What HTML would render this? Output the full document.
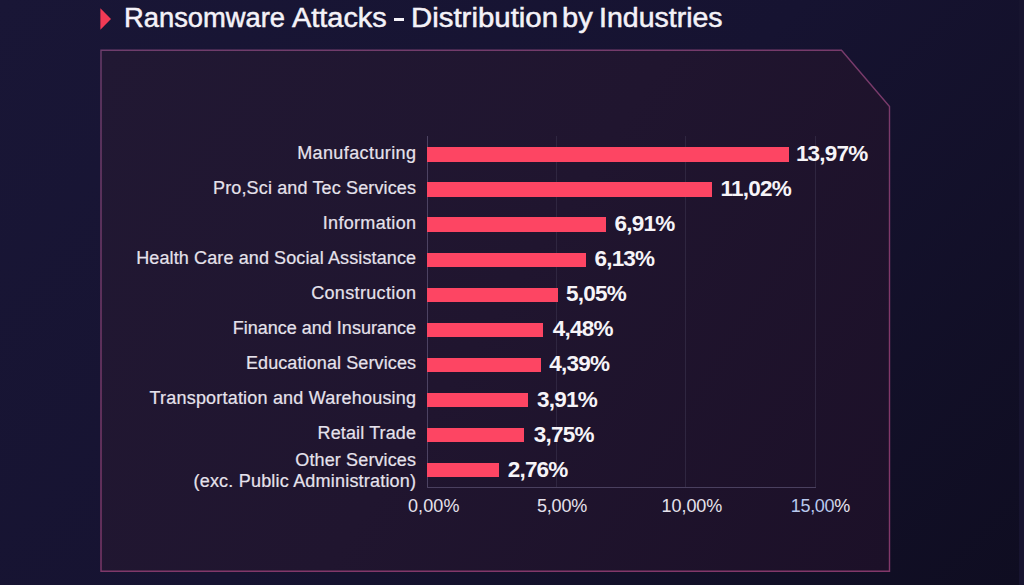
<!DOCTYPE html>
<html><head><meta charset="utf-8"><style>
html,body{margin:0;padding:0;}
body{width:1024px;height:585px;overflow:hidden;position:relative;
 background:linear-gradient(135deg,#191636 0%,#161331 50%,#0f0d21 100%);
 font-family:"Liberation Sans",sans-serif;}
.tri{position:absolute;left:100px;top:8px;width:0;height:0;border-top:11px solid transparent;border-bottom:11px solid transparent;border-left:11px solid #f03a56;}
.title{position:absolute;top:0.2px;font-size:27px;line-height:36px;color:#f4f2f8;white-space:nowrap;-webkit-text-stroke:0.5px #f4f2f8;}
.dash{position:absolute;left:393.5px;top:18.1px;width:10.2px;height:2.6px;background:#f4f2f8;}
svg.box{position:absolute;left:0;top:0;}
.bar{position:absolute;left:427.2px;height:14.4px;background:#fd4563;}
.val{position:absolute;font-size:22.5px;font-weight:700;line-height:24px;color:#f6f4f8;white-space:nowrap;}
.lab{position:absolute;font-size:18px;line-height:20px;color:#e6e2ec;text-align:right;white-space:nowrap;-webkit-text-stroke:0.2px #e6e2ec;}
.grid{position:absolute;top:136px;height:351px;width:1px;background:#2f2640;}
.axis{position:absolute;left:427px;top:136px;width:1px;height:352px;background:#4d4362;}
.haxis{position:absolute;left:427px;top:487px;width:389px;height:1px;background:#4a405f;}
.tick{position:absolute;top:493.5px;font-size:18px;line-height:24px;color:#e6e2ec;white-space:nowrap;}
</style></head><body>
<svg style="position:absolute;left:0;top:0" width="120" height="40"><polygon points="100.4,8.3 111,19 100.4,29.7" fill="#f23a55"/></svg><div style="position:absolute;right:0;top:0;width:4.6px;height:585px;background:#17142f"></div>
<div class="title" style="left:124.35px;transform:scaleX(1.0127);transform-origin:0 0">Ransomware</div><div class="title" style="left:292.13px;transform:scaleX(1.0700);transform-origin:0 0">Attacks</div><div class="title" style="left:410.52px;transform:scaleX(1.0886);transform-origin:0 0">Distribution</div><div class="title" style="left:562.04px;transform:scaleX(1.0780);transform-origin:0 0">by</div><div class="title" style="left:599.11px;transform:scaleX(1.0561);transform-origin:0 0">Industries</div><div class="dash"></div>
<svg class="box" width="1024" height="585">
<defs><linearGradient id="bg" gradientUnits="userSpaceOnUse" x1="101" y1="50" x2="890" y2="571"><stop offset="0" stop-color="#211833"/><stop offset="0.5" stop-color="#20152f"/><stop offset="1" stop-color="#1c1028"/></linearGradient>
<linearGradient id="bd" gradientUnits="userSpaceOnUse" x1="101" y1="50" x2="300" y2="571"><stop offset="0" stop-color="#6e3d6c"/><stop offset="1" stop-color="#82386a"/></linearGradient></defs>
<path d="M101 50.3 H841.5 L889.5 106.5 V571.3 H101 Z" fill="url(#bg)" stroke="url(#bd)" stroke-width="1.4"/>
</svg>
<div class="grid" style="left:556px"></div>
<div class="grid" style="left:685px"></div>
<div class="grid" style="left:815px"></div>
<div class="axis"></div>
<div class="haxis"></div>
<div class="bar" style="top:147.30px;width:361.68px"></div>
<div class="val" style="left:795.88px;top:142.00px;letter-spacing:-0.771px">13,97%</div>
<div class="lab" style="top:142.50px;right:607.60px;letter-spacing:0.400px">Manufacturing</div>
<div class="bar" style="top:182.38px;width:285.31px"></div>
<div class="val" style="left:720.51px;top:177.08px;letter-spacing:-0.771px">11,02%</div>
<div class="lab" style="top:177.58px;right:607.86px;letter-spacing:0.139px">Pro,Sci and Tec Services</div>
<div class="bar" style="top:217.46px;width:178.90px"></div>
<div class="val" style="left:614.60px;top:212.16px;letter-spacing:-0.771px">6,91%</div>
<div class="lab" style="top:212.66px;right:607.68px;letter-spacing:0.320px">Information</div>
<div class="bar" style="top:252.54px;width:158.71px"></div>
<div class="val" style="left:594.41px;top:247.24px;letter-spacing:-0.771px">6,13%</div>
<div class="lab" style="top:247.74px;right:607.89px;letter-spacing:0.113px">Health Care and Social Assistance</div>
<div class="bar" style="top:287.62px;width:130.74px"></div>
<div class="val" style="left:565.94px;top:282.32px;letter-spacing:-0.771px">5,05%</div>
<div class="lab" style="top:282.82px;right:607.65px;letter-spacing:0.345px">Construction</div>
<div class="bar" style="top:322.70px;width:115.99px"></div>
<div class="val" style="left:552.69px;top:317.40px;letter-spacing:-0.771px">4,48%</div>
<div class="lab" style="top:317.90px;right:607.99px;letter-spacing:0.010px">Finance and Insurance</div>
<div class="bar" style="top:357.78px;width:113.66px"></div>
<div class="val" style="left:549.36px;top:352.48px;letter-spacing:-0.771px">4,39%</div>
<div class="lab" style="top:352.98px;right:607.89px;letter-spacing:0.105px">Educational Services</div>
<div class="bar" style="top:392.86px;width:101.23px"></div>
<div class="val" style="left:536.93px;top:387.56px;letter-spacing:-0.771px">3,91%</div>
<div class="lab" style="top:388.06px;right:607.81px;letter-spacing:0.193px">Transportation and Warehousing</div>
<div class="bar" style="top:427.94px;width:97.09px"></div>
<div class="val" style="left:533.79px;top:422.64px;letter-spacing:-0.771px">3,75%</div>
<div class="lab" style="top:423.14px;right:607.87px;letter-spacing:0.127px">Retail Trade</div>
<div class="bar" style="top:463.02px;width:71.46px"></div>
<div class="val" style="left:507.66px;top:457.72px;letter-spacing:-0.771px">2,76%</div>
<div class="lab" style="top:450.02px;right:607.88px;letter-spacing:0.123px">Other Services</div>
<div class="lab" style="top:471.02px;right:607.80px;letter-spacing:0.200px">(exc. Public Administration)</div>
<div class="tick" style="left:408.00px;letter-spacing:0.100px">0,00%</div><div class="tick" style="left:537.00px;letter-spacing:-0.200px">5,00%</div><div class="tick" style="left:661.60px;letter-spacing:-0.080px">10,00%</div><div class="tick" style="left:790.80px;letter-spacing:-0.320px"><span style="color:#b9c9ee">15,00</span>%</div>
</body></html>
